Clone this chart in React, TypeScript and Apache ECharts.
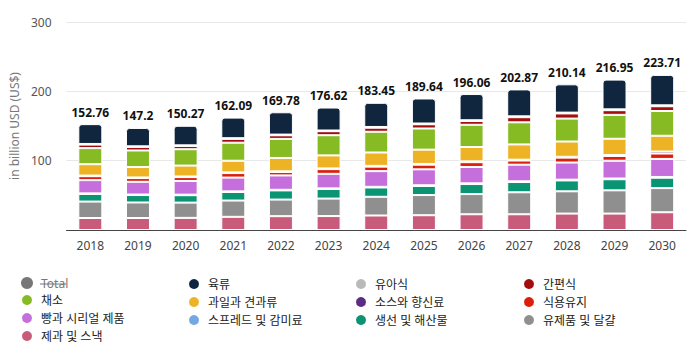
import React, { useEffect, useRef } from "react";
import * as echarts from "echarts";

const years = ["2018","2019","2020","2021","2022","2023","2024","2025","2026","2027","2028","2029","2030"];
const totals = [152.76,147.2,150.27,162.09,169.78,176.62,183.45,189.64,196.06,202.87,210.14,216.95,223.71];

const meat = [28.6,26.5,28.2,29.7,32.2,33.1,34.8,36.1,37.8,38.9,40.8,42.9,43.9];
const babyFood = [0.9,0.9,0.9,1.0,1.0,1.0,1.1,1.1,1.1,1.2,1.2,1.2,1.3];
const convenience = [5.1,5.1,4.7,5.5,5.2,5.8,5.8,6.1,5.4,7.4,7.4,6.7,6.9];
const vegetables = [23.2,23.9,23.6,26.0,27.5,29.1,29.9,30.5,32.1,31.9,33.1,34.5,35.7];
const fruitsNuts = [16.4,15.0,15.7,16.8,19.3,18.8,19.3,20.6,20.7,22.0,22.0,23.5,22.7];
const sauces = [0.9,0.9,0.9,1.0,1.0,1.0,1.1,1.1,1.2,1.2,1.2,1.3,2.9];
const oilsFats = [5.7,5.4,5.6,6.5,4.9,6.8,6.5,6.7,6.9,6.0,7.1,6.9,7.8];
const breadCereal = [19.1,18.3,19.7,19.9,20.7,21.0,22.6,23.0,23.6,24.0,24.7,25.6,26.0];
const spreads = [0.8,0.8,0.8,0.9,0.9,0.9,1.0,1.0,1.0,1.0,1.1,1.1,1.1];
const fishSeafood = [11.0,10.7,10.7,12.3,13.2,13.8,13.4,13.1,14.5,14.8,15.7,16.0,15.0];
const dairyEggs = [23.7,22.4,22.0,23.5,24.0,25.2,27.0,29.1,29.1,31.7,32.1,33.5,34.8];
const confectionery = [17.3,17.3,17.5,19.0,19.9,20.1,20.9,21.3,22.7,22.7,23.7,23.7,25.6];

const yTicks = [0, 100, 200, 300];

const FONT = "'Noto Sans', 'Noto Sans CJK KR', sans-serif";

// bottom to top
const stackDefs = [
  { name: "제과 및 스낵", data: confectionery, color: "#c85b79" },
  { name: "유제품 및 달걀", data: dairyEggs, color: "#8f8f8f" },
  { name: "생선 및 해산물", data: fishSeafood, color: "#0b9474" },
  { name: "스프레드 및 감미료", data: spreads, color: "#75a7e4" },
  { name: "빵과 시리얼 제품", data: breadCereal, color: "#c46fdb" },
  { name: "식용유지", data: oilsFats, color: "#db1f0c" },
  { name: "소스와 향신료", data: sauces, color: "#5c2b83" },
  { name: "과일과 견과류", data: fruitsNuts, color: "#edb325" },
  { name: "채소", data: vegetables, color: "#86bb23" },
  { name: "간편식", data: convenience, color: "#a20d0d" },
  { name: "유아식", data: babyFood, color: "#b9b9b9" },
  { name: "육류", data: meat, color: "#10263f" },
];

const legendCols = [
  ["Total", "채소", "빵과 시리얼 제품", "제과 및 스낵"],
  ["육류", "과일과 견과류", "스프레드 및 감미료"],
  ["유아식", "소스와 향신료", "생선 및 해산물"],
  ["간편식", "식용유지", "유제품 및 달걀"],
];
const legendLefts = [20, 187, 354, 522];

export default function App() {
  const ref = useRef<HTMLDivElement>(null);
  useEffect(() => {
    if (!ref.current) return;
    const chart = echarts.init(ref.current, undefined, { renderer: "svg" });
    const series: any[] = stackDefs.map((d, i) => ({
      name: d.name,
      type: "bar",
      stack: "total",
      data: d.data,
      barWidth: 24,
      itemStyle: {
        color: d.color,
        borderColor: "#ffffff",
        borderWidth: 1,
        borderRadius: i === stackDefs.length - 1 ? [3, 3, 0, 0] : 0,
      },
      label:
        i === stackDefs.length - 1
          ? {
              show: true,
              position: "top",
              distance: 6,
              formatter: (p: any) => String(totals[p.dataIndex]),
              fontFamily: FONT,
              fontSize: 12,
              fontWeight: "bold",
              color: "#111",
            }
          : { show: false },
      emphasis: { disabled: true },
    }));
    series.push({
      name: "Total",
      type: "line",
      data: totals,
      itemStyle: { color: "#666" },
      lineStyle: { color: "#666" },
      symbol: "none",
    });

    const legends = legendCols.map((col, ci) => ({
      orient: "vertical",
      left: legendLefts[ci],
      top: 277,
      height: 77,
      padding: 0,
      data: col.map((n) => ({ name: n, icon: "circle" })),
      itemWidth: 16,
      itemHeight: 12,
      itemGap: 4,
      symbolKeepAspect: true,
      inactiveColor: "#777",
      inactiveBorderColor: "#777",
      selected: ci === 0 ? { Total: false } : undefined,
      textStyle: { fontFamily: FONT, fontSize: 12, color: "#222", padding: [0, 0, 0, 1] },
    }));

    chart.setOption({
      animation: false,
      textStyle: { fontFamily: FONT },
      grid: { left: 63, right: 12, top: 22, bottom: 124 },
      legend: legends,
      xAxis: {
        type: "category",
        data: years,
        axisTick: { show: false },
        axisLine: { lineStyle: { color: "#444", width: 1 } },
        axisLabel: { color: "#444", fontSize: 12, margin: 9, fontFamily: FONT },
      },
      yAxis: {
        type: "value",
        min: yTicks[0],
        max: yTicks[yTicks.length - 1],
        interval: 100,
        name: "in billion USD (US$)",
        nameLocation: "middle",
        nameGap: 46,
        nameTextStyle: { color: "#777", fontSize: 12, fontFamily: FONT },
        axisLabel: {
          color: "#555",
          fontSize: 12,
          margin: 15,
          fontFamily: FONT,
          formatter: (v: number) => (v === 0 ? "" : String(v)),
        },
        splitLine: { lineStyle: { color: "#e8e8e8", width: 1 } },
        axisLine: { show: false },
        axisTick: { show: false },
      },
      graphic: [
        {
          type: "line",
          shape: { x1: 40, y1: 284, x2: 66, y2: 284 },
          style: { stroke: "#777", lineWidth: 1 },
          silent: true,
        },
      ],
      series,
    });
    return () => chart.dispose();
  }, []);
  return <div ref={ref} style={{ width: 698, height: 354, margin: -8 }} />;
}
